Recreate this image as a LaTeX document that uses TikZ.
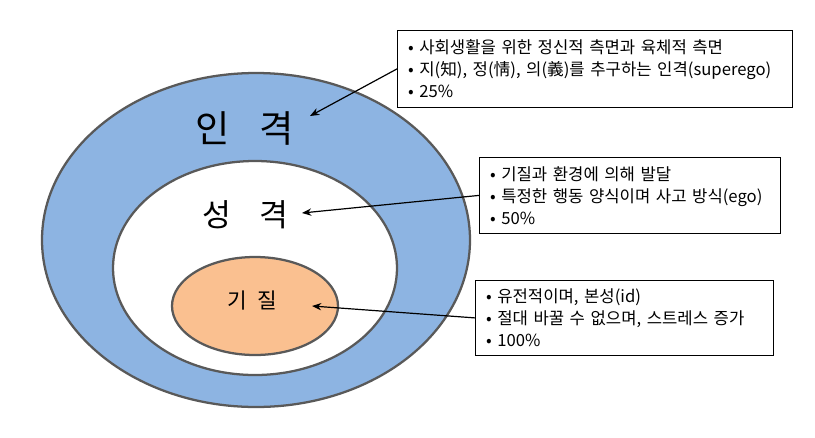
\documentclass[tikz,border=0pt]{standalone}
\usepackage{fontspec}
\setmainfont{Noto Sans CJK KR}
\usetikzlibrary{arrows.meta,shapes.geometric}
\definecolor{outerblue}{HTML}{8DB4E2}
\definecolor{coreorange}{HTML}{FAC090}

\begin{document}
\begin{tikzpicture}[
  x=0.75pt, y=-0.75pt,
  >=Stealth,
  layer/.style={draw=black!65, line width=1.7pt, ellipse, inner sep=0pt},
  title/.style={inner sep=1pt},
  note/.style={draw, line width=.6pt, anchor=north west, align=left, inner xsep=8pt, font=\fontsize{12.5}{16.5}\selectfont},
  pointer/.style={-{Stealth[length=7pt,width=5.5pt]}, line width=.9pt}
]
\useasboundingbox (0,0) rectangle (815,437);
\node[layer, fill=outerblue, minimum width=321pt, minimum height=250.5pt] (persona) at (256,240) {};
\node[layer, fill=white, minimum width=213pt, minimum height=160.5pt] (character) at (255,268) {};
\node[layer, fill=coreorange, minimum width=124.5pt, minimum height=73.5pt] (temper) at (255,306) {};

\node[title, font=\fontsize{28}{30}\selectfont] (persona-label) at (245,128) {인\hspace{0.8em}격};
\node[title, font=\fontsize{23.5}{26}\selectfont] (character-label) at (245,215) {성\hspace{0.9em}격};
\node[title, font=\fontsize{16}{18}\selectfont] (temper-label) at (252,301) {기\hspace{0.5em}질};

\coordinate (persona-tip) at (310,116);
\coordinate (character-tip) at (302,213);
\coordinate (temper-tip) at (312,306);

\node[note, text width=280pt, minimum height=57.75pt] (persona-note) at (397,30)
  {• 사회생활을 위한 정신적 측면과 육체적 측면\\• 지(知), 정(情), 의(義)를 추구하는 인격(superego)\\• 25\%};
\node[note, text width=209.75pt, minimum height=57pt] (character-note) at (479,157)
  {• 기질과 환경에 의해 발달\\• 특정한 행동 양식이며 사고 방식(ego)\\• 50\%};
\node[note, text width=207.5pt, minimum height=56.25pt] (temper-note) at (475,280)
  {• 유전적이며, 본성(id)\\• 절대 바꿀 수 없으며, 스트레스 증가\\• 100\%};

\draw[pointer] (persona-note.west) -- (persona-tip);
\draw[pointer] (character-note.west) -- (character-tip);
\draw[pointer] (temper-note.west) -- (temper-tip);
\end{tikzpicture}
\end{document}
